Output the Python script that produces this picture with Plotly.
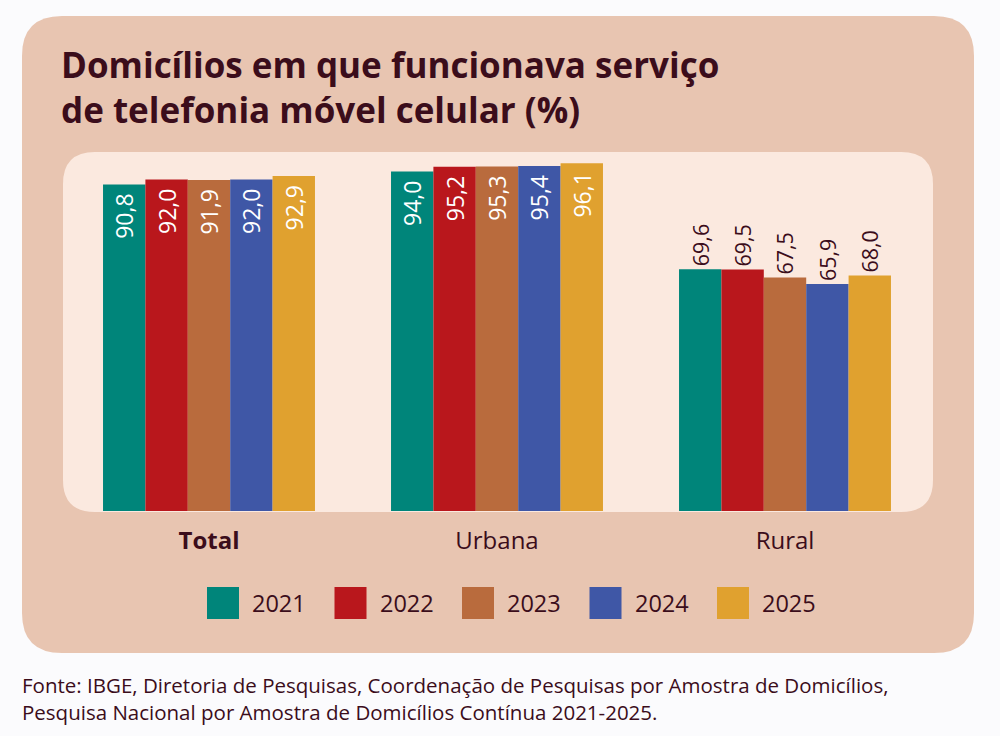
import plotly.graph_objects as go

categories = ["Total", "Urbana", "Rural"]
years = ["2021", "2022", "2023", "2024", "2025"]
values = {
    "2021": [90.8, 94.0, 69.6],
    "2022": [92.0, 95.2, 69.5],
    "2023": [91.9, 95.3, 67.5],
    "2024": [92.0, 95.4, 65.9],
    "2025": [92.9, 96.1, 68.0],
}
colors = ["#00857a", "#b9171c", "#b96b3d", "#3f57a6", "#e0a12f"]
tick_labels = ["<b>Total</b>", "Urbana", "Rural"]
title_lines = ["Domicílios em que funcionava serviço", "de telefonia móvel celular (%)"]
source_lines = ["Fonte: IBGE, Diretoria de Pesquisas, Coordenação de Pesquisas por Amostra de Domicílios,",
                "Pesquisa Nacional por Amostra de Domicílios Contínua 2021-2025."]

DARK = "#3b0d1b"
OUTER = "#e8c5b1"
INNER = "#fbe9df"
FONT = "Open Sans"

W, H = 1000, 736
L, R, T, B = 65, 929, 150, 511  # plot area in pixels


def px(x):
    return (x - L) / (R - L)


def py(y):
    return (B - y) / (B - T)


def rrect(x0, y0, x1, y1, r):
    rx = r / (R - L)
    ry = r / (B - T)
    X0, X1 = px(x0), px(x1)
    Y0, Y1 = py(y0), py(y1)  # Y0 top (larger), Y1 bottom
    return (f"M {X0+rx},{Y0} L {X1-rx},{Y0} Q {X1},{Y0} {X1},{Y0-ry} "
            f"L {X1},{Y1+ry} Q {X1},{Y1} {X1-rx},{Y1} "
            f"L {X0+rx},{Y1} Q {X0},{Y1} {X0},{Y1+ry} "
            f"L {X0},{Y0-ry} Q {X0},{Y0} {X0+rx},{Y0} Z")


fig = go.Figure()
for yr, col in zip(years, colors):
    fig.add_trace(go.Bar(
        x=categories, y=values[yr], name=yr, marker=dict(color=col, line=dict(width=0)),
        texttemplate=["%{y:.1f}\u00a0", "%{y:.1f}\u00a0", "%{y:.1f}"],
        textposition=["inside", "inside", "outside"],
        insidetextanchor="end",
        textangle=-90,
        insidetextfont=dict(color="white", size=23, family=FONT),
        outsidetextfont=dict(color=DARK, size=23, family=FONT),
        showlegend=False,
        hoverinfo="skip",
    ))

shapes = [
    dict(type="path", xref="paper", yref="paper", path=rrect(22, 16, 974, 653, 40),
         fillcolor=OUTER, line=dict(width=0), layer="below"),
    dict(type="path", xref="paper", yref="paper", path=rrect(63, 152, 933, 512, 32),
         fillcolor=INNER, line=dict(width=0), layer="below"),
]
annotations = []
# manual legend
for i, (yr, col) in enumerate(zip(years, colors)):
    sx = 207 + i * 127.5
    shapes.append(dict(type="rect", xref="paper", yref="paper",
                       x0=px(sx), x1=px(sx + 32), y0=py(619), y1=py(587),
                       fillcolor=col, line=dict(width=0)))
    annotations.append(dict(xref="paper", yref="paper", x=px(sx + 43), y=py(603),
                            xanchor="left", yanchor="middle", text=yr, showarrow=False,
                            font=dict(family=FONT, size=23.5, color=DARK)))

for j, line in enumerate(title_lines):
    annotations.append(dict(xref="paper", yref="paper", x=px(59), y=py(64 + j * 45),
                            xanchor="left", yanchor="middle", text=f"<b>{line}</b>", showarrow=False,
                            font=dict(family=FONT, size=35, color=DARK)))

for j, line in enumerate(source_lines):
    annotations.append(dict(xref="paper", yref="paper", x=px(20), y=py(685 + j * 27),
                            xanchor="left", yanchor="middle", align="left", text=line,
                            showarrow=False, font=dict(family=FONT, size=20.5, color=DARK)))

fig.update_layout(
    width=W, height=H,
    margin=dict(l=L, r=W - R, t=T, b=H - B, pad=0),
    paper_bgcolor="#fbfbfd", plot_bgcolor="rgba(0,0,0,0)",
    barmode="group", bargap=0.264, bargroupgap=0,
    separators=", ",
    shapes=shapes, annotations=annotations,
    xaxis=dict(tickvals=categories, ticktext=tick_labels, showgrid=False, zeroline=False,
               showline=False, ticks="", ticklabelstandoff=13,
               tickfont=dict(family=FONT, size=24, color=DARK), range=[-0.5, 2.5]),
    yaxis=dict(visible=False, range=[9.15, 9.15 + (B - T) / 4]),
    font=dict(family=FONT, color=DARK),
)

fig.write_html("out.html")
